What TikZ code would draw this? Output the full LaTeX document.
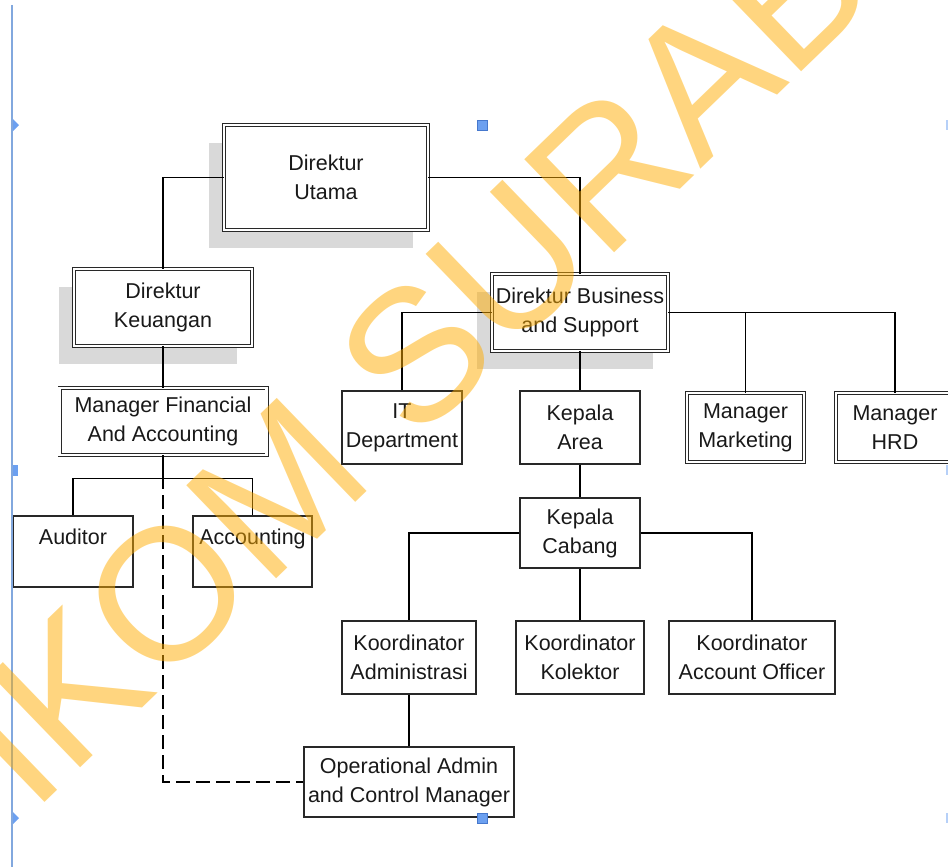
\documentclass[tikz,border=0pt]{standalone}
\usepackage{fontspec}
\setmainfont{Liberation Sans}
\usepackage{tikz}
\usetikzlibrary{shadows}
\definecolor{shadowgray}{RGB}{217,217,217}
\definecolor{boxline}{RGB}{40,40,40}
\definecolor{wmark}{RGB}{255,172,0}
\definecolor{handleblue}{RGB}{108,160,240}
\definecolor{handleedge}{RGB}{70,120,205}
\definecolor{rulerblue}{RGB}{130,168,222}

\begin{document}
\begin{tikzpicture}[x=1pt, y=-1pt, font=\fontsize{21.5}{29}\selectfont,
    orgbox/.style={draw=boxline, line width=1.2pt, fill=white, text=black!90, align=center, inner sep=2pt},
    dorgbox/.style={orgbox, double, double distance=2.4pt, line width=0.8pt},
    boxshadow/.style={drop shadow={shadow xshift=-15pt, shadow yshift=-18pt, fill=shadowgray, opacity=1}},
    connector/.style={line width=1.2pt, black}]
    \useasboundingbox (0,0) rectangle (948,867);
    \clip (0,0) rectangle (948,867);

    % Direktur Utama Node
    \node[dorgbox, boxshadow, minimum width=204pt, minimum height=105pt] (utama)
    at (326,177.5) {Direktur\\Utama};

    % Direktur Keuangan Node
    \node[dorgbox, boxshadow, minimum width=178pt, minimum height=77pt] (keu)
    at (163,307.5) {Direktur\\Keuangan};

    % Direktur Business and Support Node
    \node[dorgbox, boxshadow, minimum width=176pt, minimum height=77pt] (biz)
    at (580,312.5) {Direktur Business\\and Support};

    % Manager Financial and Accounting Node
    \node[dorgbox, minimum width=207pt, minimum height=67pt] (fin)
    at (163,421.5) {Manager Financial\\And Accounting};

    % Second row under Direktur Business
    \node[orgbox, minimum width=120pt, minimum height=73pt] (it) at (402,427.5) {IT\\Department};
    \node[orgbox, minimum width=120pt, minimum height=73pt] (area) at (580,427.5) {Kepala\\Area};
    \node[dorgbox, minimum width=117pt, minimum height=69pt] (mkt) at (745.5,427.5) {Manager\\Marketing};
    \node[dorgbox, minimum width=118pt, minimum height=69pt] (hrd) at (895,427.5) {Manager\\HRD};

    % Auditor and Accounting Nodes
    \node[orgbox, minimum width=120pt, minimum height=71pt] (aud) at (73,551.5) {Auditor\\\mbox{}};
    \node[orgbox, minimum width=119pt, minimum height=71pt] (acc) at (252.5,551.5) {Accounting\\\mbox{}};

    % Kepala Cabang Node
    \node[orgbox, minimum width=120pt, minimum height=70pt] (cab) at (580,533) {Kepala\\Cabang};

    % Koordinator Nodes
    \node[orgbox, minimum width=134pt, minimum height=73pt] (adm) at (409,657.5) {Koordinator\\Administrasi};
    \node[orgbox, minimum width=128pt, minimum height=73pt] (kol) at (580,657.5) {Koordinator\\Kolektor};
    \node[orgbox, minimum width=166pt, minimum height=73pt] (ao) at (752,657.5) {Koordinator\\Account Officer};

    % Operational Admin and Control Manager Node
    \node[orgbox, minimum width=210pt, minimum height=70pt] (ops) at (409,782) {Operational Admin\\and Control Manager};

    % Lines from Direktur Utama
    \draw[connector] (utama.west) -| (keu.north);
    \draw[connector] (utama.east) -| (biz.north);

    % Lines on the finance side
    \draw[connector] (keu.south) -- (fin.north);
    \draw[connector] (fin.south) -- ++(0,23) coordinate (finfork);
    \draw[connector] (aud.north) |- (finfork) -| (acc.north);

    % Dashed line to Operational Admin
    \draw[connector, dash pattern=on 14pt off 6pt] (fin.south) -- (fin.south |- ops.west) -- (ops.west);

    % Lines from Direktur Business
    \draw[connector] (biz.west) -| (it.north);
    \draw[connector] (biz.east) -| (mkt.north);
    \draw[connector] (biz.east) -| (hrd.north);
    \draw[connector] (biz.south) -- (area.north);

    % Lines from Kepala Area and Kepala Cabang
    \draw[connector] (area.south) -- (cab.north);
    \draw[connector] (cab.west) -| (adm.north);
    \draw[connector] (cab.east) -| (ao.north);
    \draw[connector] (cab.south) -- (kol.north);
    \draw[connector] (adm.south) -- (ops.north);

    % Selection handles of the drawing canvas
    \draw[rulerblue, line width=1.5pt] (12,5) -- (12,867);
    \fill[handleblue] (13,119) -- (19,125) -- (13,131) -- cycle;
    \fill[handleblue] (13,812) -- (19,818) -- (13,824) -- cycle;
    \fill[handleblue] (13,465) rectangle (18,476);
    \filldraw[fill=handleblue, draw=handleedge] (477,120) rectangle (487,130);
    \filldraw[fill=handleblue, draw=handleedge] (477,813) rectangle (487,823);
    \fill[handleblue!50] (946,120) rectangle (956,130);
    \fill[handleblue!50] (946,465) rectangle (956,475);
    \fill[handleblue!50] (946,813) rectangle (956,823);

    % Watermark
    \node[rotate=44, anchor=base west, inner sep=0pt, text=wmark, opacity=0.5,
    font=\fontsize{188}{188}\selectfont] (watermark) at (32,815) {IKOM SURABAYA};
\end{tikzpicture}
\end{document}
